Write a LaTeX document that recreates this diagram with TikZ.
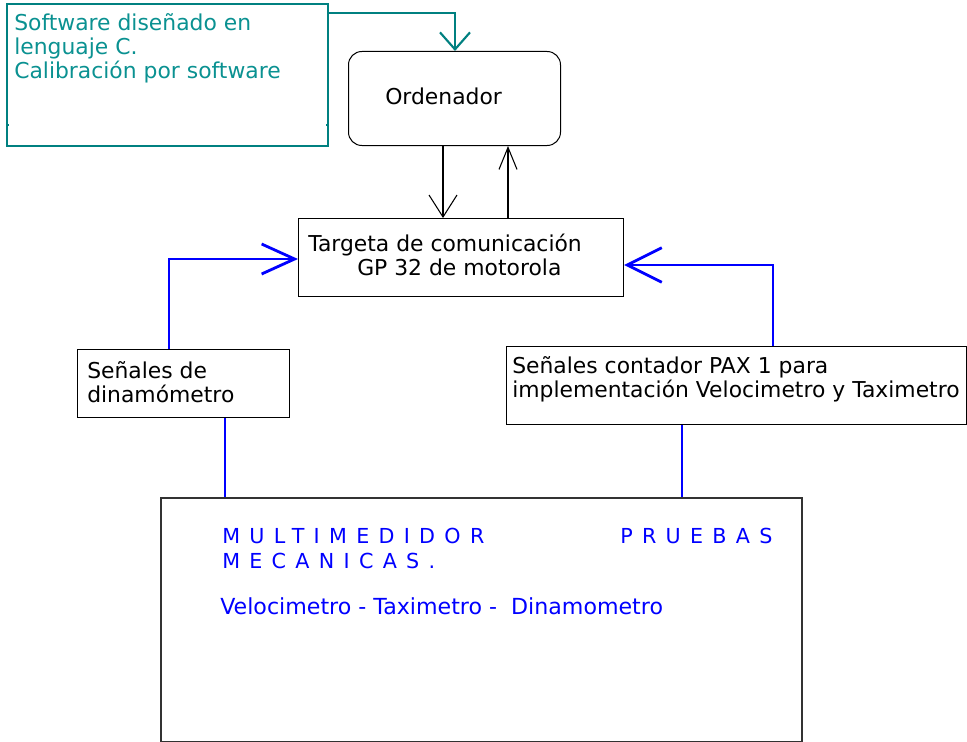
\documentclass[tikz,border=0pt]{standalone}
\usepackage{fontspec}
\setmainfont{DejaVu Sans}
\usetikzlibrary{arrows.meta,calc}
\definecolor{tealline}{RGB}{0,128,128}
\definecolor{tealtext}{RGB}{10,145,145}
\definecolor{pureblue}{RGB}{0,0,255}
\definecolor{framegray}{RGB}{50,50,50}
\newcommand{\spacedcaps}{\addfontfeature{LetterSpace=45}}
\begin{document}
\begin{tikzpicture}[x=0.75pt,y=-0.75pt,
  font=\fontsize{16.4}{18}\selectfont,
  box/.style={draw, line width=0.75pt, inner sep=0pt, anchor=north west},
  txt/.style={anchor=base west, inner sep=0pt},
  blackarrow/.style={draw, line width=0.8pt},
  blueline/.style={draw=pureblue, line width=2.1pt},
  tealconn/.style={draw=tealline, line width=1.6pt}]
  \useasboundingbox (0,0) rectangle (967,742);

  % boxes
  \node[box, draw=tealline, line width=1.5pt, minimum width=240.75pt, minimum height=106.5pt] (soft) at (6,3) {};
  \node[box, rounded corners=10pt, minimum width=159pt, minimum height=70.5pt] (ord) at (348,51) {};
  \node[box, minimum width=243.75pt, minimum height=58.5pt] (targ) at (298,218) {};
  \node[box, minimum width=159pt, minimum height=51pt] (dina) at (77,349) {};
  \node[box, minimum width=345pt, minimum height=58.5pt] (pax) at (506,346) {};
  \node[box, draw=framegray, line width=1.5pt, minimum width=480.75pt, minimum height=183pt] (multi) at (160,497) {};

  % small ticks on the software box sides
  \draw[tealline, line width=1pt] ($(soft.north west)+(0,122)$) -- ++(3,0);
  \draw[tealline, line width=1pt] ($(soft.north east)+(0,122)$) -- ++(-3,0);

  % texts
  \begin{scope}[text=tealtext]
    \node[txt] (softa) at (14,31) {Software diseñado en};
    \node[txt] (softb) at (14,55) {lenguaje C.};
    \node[txt] (softc) at (14,79) {Calibración por software};
  \end{scope}
  \node[txt] (ordt) at (385,104) {Ordenador};
  \node[txt] (targa) at (308,251) {Targeta de comunicación};
  \node[txt] (targb) at (357,275) {GP 32 de motorola};
  \node[txt] (dinaa) at (87,378) {Señales de};
  \node[txt] (dinab) at (87,402) {dinamómetro};
  \node[txt] (paxa) at (512,373) {Señales contador PAX 1 para};
  \node[txt] (paxb) at (512,397) {implementación Velocimetro y Taximetro};
  \begin{scope}[text=pureblue]
    \node[txt, font=\fontsize{15.5}{18}\selectfont\spacedcaps] (multa) at (222,543) {MULTIMEDIDOR};
    \node[txt, font=\fontsize{15.5}{18}\selectfont\spacedcaps] (multb) at (620,543) {PRUEBAS};
    \node[txt, font=\fontsize{15.5}{18}\selectfont\spacedcaps] (multc) at (222,568) {MECANICAS.};
    \node[txt, font=\fontsize{16.6}{18}\selectfont] (multd) at (220,614) {Velocimetro - Taximetro -\ \ Dinamometro};
  \end{scope}

  % connectors
  \draw[tealconn, -{Straight Barb[length=12.75pt,width=22.5pt]}]
    ($(soft.north east)+(0,10)$) -| ($(ord.north west)+(107,0)$);
  \draw[blackarrow, -{Straight Barb[length=16.5pt,width=21pt]}]
    ($(ord.south west)+(95,0)$) -- ($(targ.north west)+(145,0)$);
  \draw[blackarrow, -{Straight Barb[length=16.5pt,width=13.5pt]}]
    ($(targ.north west)+(210,0)$) -- ($(ord.south west)+(160,0)$);
  \draw[blueline, -{Straight Barb[length=24.75pt,width=22.5pt]}]
    ($(dina.north west)+(92,0)$) |- ($(targ.north west)+(0,41)$);
  \draw[blueline, -{Straight Barb[length=26pt,width=26pt]}]
    ($(pax.north west)+(267,0)$) |- ($(targ.north east)+(0,47)$);
  \draw[blueline] ($(dina.south west)+(148,0)$) -- ($(multi.north west)+(65,0)$);
  \draw[blueline] ($(pax.south west)+(176,0)$) -- ($(multi.north west)+(522,0)$);
\end{tikzpicture}
\end{document}
